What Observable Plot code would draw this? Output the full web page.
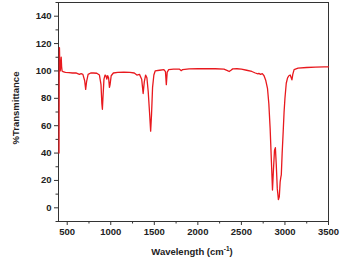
<!DOCTYPE html>
<html>
<head>
<meta charset="utf-8">
<script src="https://cdn.jsdelivr.net/npm/d3@7"></script>
<script src="https://cdn.jsdelivr.net/npm/@observablehq/plot@0.6"></script>
<style>
  html, body { margin: 0; padding: 0; background: white; }
</style>
</head>
<body>
<div id="chart"></div>
<script>
const wavenumber = [406,407,408,409.5,411,415,420,425,431,436,441,450,480,520,560,600,640,660,680,700,712,722,740,770,800,840,870,888,898,904,910,922,935,945,955,965,975,985,992,1005,1030,1080,1150,1220,1270,1300,1330,1355,1372,1385,1400,1415,1430,1445,1458,1468,1480,1495,1510,1560,1610,1628,1638,1648,1665,1720,1790,1810,1825,1900,2000,2100,2200,2300,2340,2360,2380,2400,2450,2500,2560,2620,2660,2690,2700,2720,2740,2760,2780,2800,2815,2830,2845,2857,2868,2880,2890,2900,2912,2925,2935,2945,2952,2958,2968,2980,2990,3000,3015,3030,3045,3060,3072,3080,3090,3105,3150,3250,3350,3450,3500];
const transmittance = [40,62,90,110,117,104,100,104,110,103,100,99.5,99,98.8,98.5,98.6,97.5,98,97.5,93,86.5,92,97.5,98.5,98.5,98.3,97,90,76,72,80,94,97,96.5,94,96.5,95,88,90,96.5,98.5,99,99.2,99,98.5,97,97.5,94,83.5,92,97,95,85,70,56,68,88,97,100,100.5,101,99.5,90,99,101,101.3,101.3,100.2,101,101.5,101.6,101.6,101.6,101.3,100.2,99.6,100.5,101.5,101.6,101.3,100.5,99.6,98.5,97.8,98.2,97.5,98,96.5,93,87,76,58,33,13,28,42,44,32,14,6,8,19,22,24,40,56,70,80,91,95,96.5,97,95,93.5,97.5,101,102,102.5,102.8,103,103];

const xTicks = [500,1000,1500,2000,2500,3000,3500];
const xMinor = [750,1250,1750,2250,2750,3250];
const yTicks = [0,20,40,60,80,100,120,140];
const yMinor = [-10,10,30,50,70,90,110,130,150];

const yLabel = "%Transmittance";
const xLabelMain = "Wavelength (cm";
const xLabelSup = "-1";
const xLabelEnd = ")";

const data = wavenumber.map((w, i) => ({w, t: transmittance[i]}));

const chart = Plot.plot({
  width: 352,
  height: 260,
  marginLeft: 58,
  marginRight: 24,
  marginTop: 2,
  marginBottom: 39,
  x: {domain: [400, 3500]},
  y: {domain: [-10, 150]},
  style: {fontFamily: "Arial, 'Liberation Sans', sans-serif", fontSize: "9.5px", fontWeight: "bold", color: "#222", background: "white"},
  marks: [
    Plot.axisX({ticks: xTicks, tickSize: 4, tickPadding: 3, tickFormat: d => String(d), label: null, stroke: "#333"}),
    Plot.axisX({ticks: xMinor, tickSize: 2.5, tickFormat: () => "", label: null, stroke: "#333"}),
    Plot.axisY({ticks: yTicks, tickSize: 4, tickPadding: 3, tickFormat: d => String(d), label: null, stroke: "#333"}),
    Plot.axisY({ticks: yMinor, tickSize: 2.5, tickFormat: () => "", label: null, stroke: "#333"}),
    Plot.frame({stroke: "#333", strokeWidth: 1}),
    Plot.line(data, {x: "w", y: "t", stroke: "#e8191e", strokeWidth: 1.3, curve: "linear"})
  ]
});

document.getElementById("chart").appendChild(chart);

const svg = d3.select(chart);
svg.append("text")
  .attr("transform", "translate(16,108) rotate(-90)")
  .attr("text-anchor", "middle")
  .attr("dy", "0.35em")
  .attr("fill", "#222")
  .style("font-size", "9.5px")
  .style("font-weight", "bold")
  .text(yLabel);

const xl = svg.append("text")
  .attr("x", 192)
  .attr("y", 255)
  .attr("text-anchor", "middle")
  .attr("fill", "#222")
  .style("font-size", "9.5px")
  .style("font-weight", "bold");
xl.append("tspan").text(xLabelMain);
xl.append("tspan").attr("dy", "-4").style("font-size", "6.5px").text(xLabelSup);
xl.append("tspan").attr("dy", "4").text(xLabelEnd);
</script>
</body>
</html>
